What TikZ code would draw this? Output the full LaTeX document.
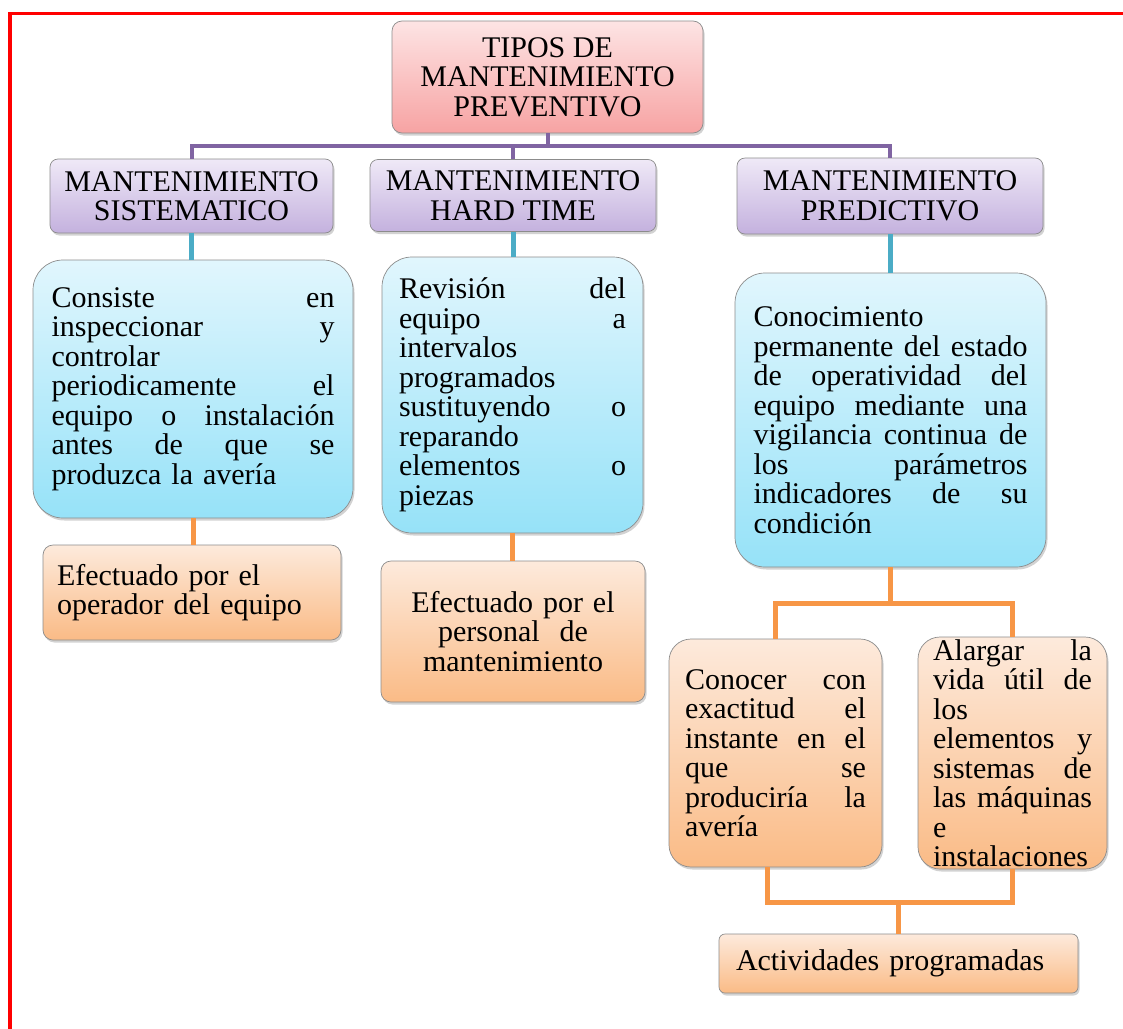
\documentclass[tikz,border=0pt]{standalone}
\usepackage{fontspec}
\setmainfont{Liberation Serif}
\usetikzlibrary{shadows,calc}
\definecolor{pinkT}{HTML}{FDE4E4}
\definecolor{pinkB}{HTML}{F7A3A3}
\definecolor{purT}{HTML}{EFE9F7}
\definecolor{purB}{HTML}{C4B1DE}
\definecolor{cyaT}{HTML}{E1F6FD}
\definecolor{cyaB}{HTML}{96E2F8}
\definecolor{oraT}{HTML}{FDEADC}
\definecolor{oraB}{HTML}{FABB86}
\definecolor{purLine}{HTML}{8064A2}
\definecolor{cyaLine}{HTML}{4BACC6}
\definecolor{oraLine}{HTML}{F79646}
\begin{document}
\begin{tikzpicture}[x=1pt,y=-1pt,
  box/.style={draw=black!45, line width=0.7pt, inner sep=0pt,
    font=\fontsize{30}{29.5}\selectfont,
    drop shadow={shadow xshift=1.5pt,shadow yshift=-2.5pt,opacity=0.35}},
  titlebox/.style={box, top color=pinkT, bottom color=pinkB, rounded corners=10pt, align=center},
  purbox/.style={box, top color=purT, bottom color=purB, rounded corners=8pt, align=center},
  cyabox/.style={box, top color=cyaT, bottom color=cyaB, rounded corners=30pt, align=left},
  orabox/.style={box, top color=oraT, bottom color=oraB, rounded corners=10pt},
  pl/.style={draw=purLine, line width=4pt},
  cl/.style={draw=cyaLine, line width=5pt},
  ol/.style={draw=oraLine, line width=5pt},
]
\useasboundingbox (0,0) rectangle (1123,1028);
\fill[white] (0,0) rectangle (1123,1028);
\draw[red, line width=3.5pt] (10,1030) -- (10,13.5) -- (1125,13.5);

\node[titlebox, minimum width=311, minimum height=112] (title) at (547.5,77)
  {TIPOS DE\\MANTENIMIENTO\\PREVENTIVO};

\node[purbox, minimum width=283, minimum height=74] (sis) at (191.5,196)
  {MANTENIMIENTO\\SISTEMATICO};
\node[purbox, minimum width=286, minimum height=72] (hard) at (513,195.5)
  {MANTENIMIENTO\\HARD TIME};
\node[purbox, minimum width=306, minimum height=76] (pred) at (890,196)
  {MANTENIMIENTO\\PREDICTIVO};

\node[cyabox, minimum width=320, minimum height=258, text width=283] (c1) at (193,389)
  {Consiste\hfill en\\
   inspeccionar\hfill y\\
   controlar\\
   periodicamente\hfill el\\
   equipo\hfill o\hfill instalación\\
   antes\hfill de\hfill que\hfill se\\
   produzca la avería};
\node[cyabox, minimum width=261, minimum height=276, text width=227] (c2) at (512.5,395)
  {Revisión\hfill del\\
   equipo\hfill a\\
   intervalos\\
   programados\\
   sustituyendo\hfill o\\
   reparando\\
   elementos\hfill o\\
   piezas};
\node[cyabox, minimum width=311, minimum height=294, text width=274] (c3) at (890.5,420)
  {Conocimiento\\
   permanente\hfill del\hfill estado\\
   de\hfill operatividad\hfill del\\
   equipo\hfill mediante\hfill una\\
   vigilancia\hfill continua\hfill de\\
   los\hfill parámetros\\
   indicadores\hfill de\hfill su\\
   condición};

\node[orabox, minimum width=298, minimum height=95, text width=270, align=left] (o1) at (192,592.5)
  {Efectuado por el\\operador del equipo};
\node[orabox, minimum width=264, minimum height=141, text width=240, align=center] (o2) at (513,631.5)
  {Efectuado por el\\personal\ \ de\\mantenimiento};
\node[orabox, rounded corners=22pt, minimum width=213, minimum height=228, text width=181, align=left] (o3) at (775.5,753)
  {Conocer\hfill con\\
   exactitud\hfill el\\
   instante\hfill en\hfill el\\
   que\hfill se\\
   produciría\hfill la\\
   avería};
\node[orabox, rounded corners=22pt, minimum width=189, minimum height=232, text width=159, align=left] (o4) at (1012.5,753)
  {Alargar\hfill la\\
   vida\hfill útil\hfill de\\
   los\\
   elementos\hfill y\\
   sistemas\hfill de\\
   las\hfill máquinas\\
   e\\
   instalaciones};
\node[orabox, rounded corners=6pt, minimum width=359, minimum height=59, text width=325, align=left] (act) at (898.5,963.5)
  {Actividades programadas};

% connectors
\draw[pl] (title.south) -- ++(0,13) coordinate (tj);
\draw[pl] (sis.north) |- (tj) -| (pred.north);
\draw[pl] (hard.north) -- (hard.north |- tj);

\draw[cl] (sis.south) -- (sis.south |- c1.north);
\draw[cl] (hard.south) -- (hard.south |- c2.north);
\draw[cl] (pred.south) -- (pred.south |- c3.north);

\draw[ol] (c1.south) -- (c1.south |- o1.north);
\draw[ol] (c2.south) -- (c2.south |- o2.north);
\draw[ol] (c3.south) -- ++(0,36) coordinate (pj);
\draw[ol] (o3.north) |- (pj) -| (o4.north);
\coordinate (o3b) at ($(o3.south)+(-8,0)$);
\draw[ol] (act.north) -- ++(0,-31) coordinate (aj);
\draw[ol] (o3b) |- (aj) -| (o4.south);
\end{tikzpicture}
\end{document}
